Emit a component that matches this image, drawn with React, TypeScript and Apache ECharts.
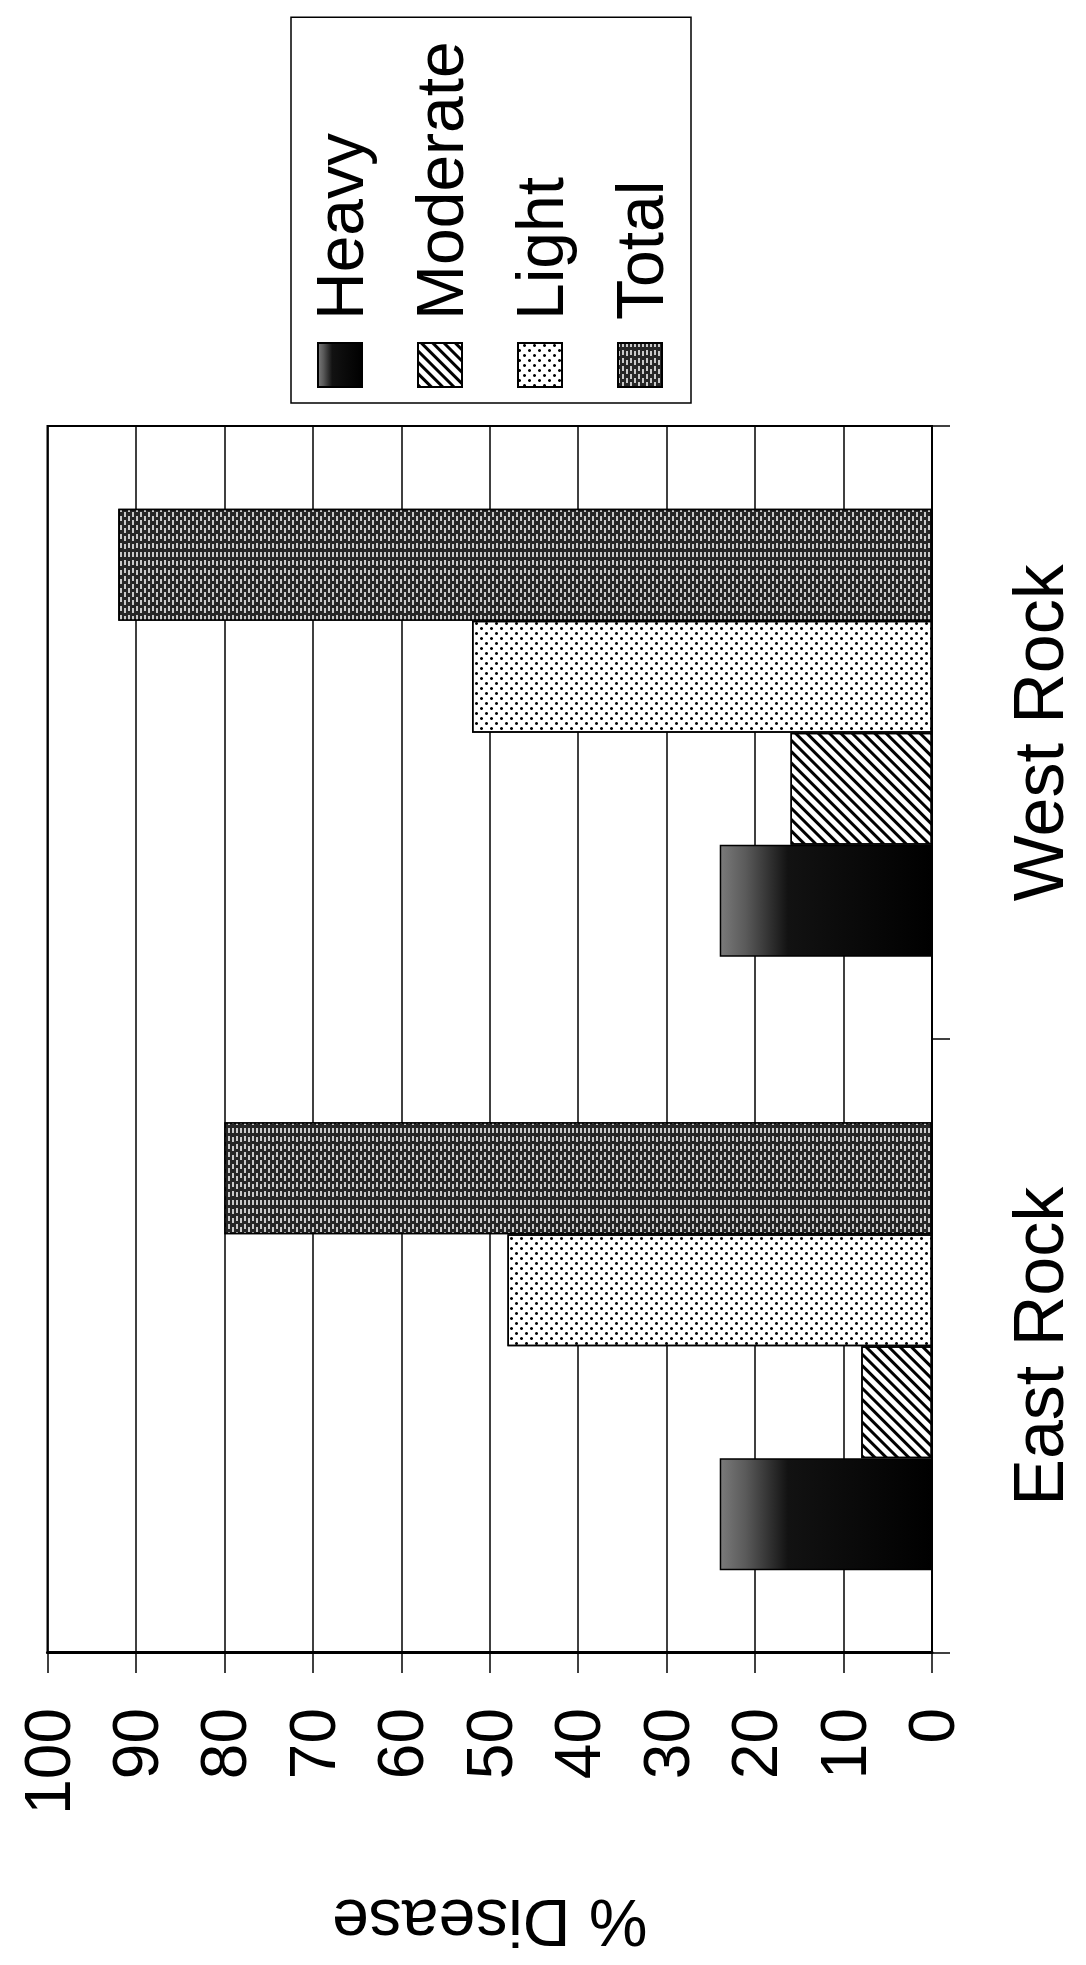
import React, { useEffect, useRef } from "react";
import * as echarts from "echarts";

// ---- data ----
const categories = ["East Rock", "West Rock"];
const seriesNames = ["Heavy", "Moderate", "Light", "Total"];
const heavy = [24, 24];
const moderate = [8, 16];
const light = [48, 52];
const total = [80, 92];
const valueMin = 0;
const valueMax = 100;
const valueStep = 10;
const axisName = "% Disease";

// chart is drawn upright, then the whole box is turned a quarter turn counter-clockwise
const W = 1965;
const H = 1086;
const FONT = "'Liberation Sans', Arial, Helvetica, sans-serif";

export default function App() {
  const ref = useRef<HTMLDivElement>(null);

  useEffect(() => {
    document.body.style.margin = "0";
    document.body.style.overflow = "hidden";
    const chart = echarts.init(ref.current as HTMLDivElement, null, {
      renderer: "svg",
      width: W,
      height: H,
    });

    const border = { borderColor: "#000", borderWidth: 1.5 };

    const heavyFill = new echarts.graphic.LinearGradient(0, 0, 0, 1, [
      { offset: 0, color: "#7a7a7a" },
      { offset: 0.12, color: "#5a5a5a" },
      { offset: 0.32, color: "#121212" },
      { offset: 1, color: "#000000" },
    ]);

    const option = {
      animation: false,
      backgroundColor: "#ffffff",
      textStyle: { fontFamily: FONT, color: "#000" },
      grid: {
        left: 312,
        right: 426,
        top: 47.5,
        bottom: 154,
        show: true,
        borderColor: "#000",
        borderWidth: 2,
        backgroundColor: "transparent",
      },
      legend: {
        orient: "vertical",
        left: 1562,
        top: 291,
        data: seriesNames,
        icon: "rect",
        itemWidth: 44,
        itemHeight: 44,
        itemGap: 34,
        padding: [16, 24, 18, 15],
        borderColor: "#000",
        borderWidth: 1.5,
        backgroundColor: "#fff",
        textStyle: {
          fontFamily: FONT,
          fontSize: 66,
          color: "#000",
          padding: [0, 0, 0, 18],
        },
      },
      xAxis: {
        type: "category",
        data: categories,
        axisLine: { show: true, lineStyle: { color: "#000", width: 2 } },
        axisTick: { show: true, length: 18, lineStyle: { color: "#000", width: 1.5 } },
        axisLabel: { fontFamily: FONT, fontSize: 70, color: "#000", margin: 72 },
        splitLine: { show: false },
      },
      yAxis: {
        type: "value",
        min: valueMin,
        max: valueMax,
        interval: valueStep,
        name: axisName,
        nameLocation: "middle",
        nameRotate: 90,
        nameGap: 237,
        nameTextStyle: { fontFamily: FONT, fontSize: 66, color: "#000" },
        axisLine: { show: true, lineStyle: { color: "#000", width: 3 } },
        axisTick: { show: true, length: 20, lineStyle: { color: "#000", width: 1.5 } },
        axisLabel: { fontFamily: FONT, fontSize: 64, color: "#000", margin: 55 },
        splitLine: { show: true, lineStyle: { color: "#000", width: 1.5 } },
      },
      series: [
        {
          name: "Heavy",
          type: "bar",
          data: heavy,
          barGap: "0%",
          barCategoryGap: "27%",
          itemStyle: { color: heavyFill, ...border },
        },
        {
          name: "Moderate",
          type: "bar",
          data: moderate,
          barGap: "0%",
          barCategoryGap: "27%",
          itemStyle: {
            color: "#ffffff",
            ...border,
            decal: {
              symbol: "rect",
              symbolSize: 1,
              color: "#000",
              dashArrayX: [1, 0],
              dashArrayY: [3, 5],
              rotation: -Math.PI / 4,
            },
          },
        },
        {
          name: "Light",
          type: "bar",
          data: light,
          barGap: "0%",
          barCategoryGap: "27%",
          itemStyle: {
            color: "#ffffff",
            ...border,
            decal: {
              symbol: "circle",
              symbolSize: 1,
              color: "#000",
              dashArrayX: [
                [2.6, 6.4],
                [0, 4.5, 2.6, 1.9],
              ],
              dashArrayY: [2.6, 1.9],
            },
          },
        },
        {
          name: "Total",
          type: "bar",
          data: total,
          barGap: "0%",
          barCategoryGap: "27%",
          itemStyle: {
            color: "#262626",
            ...border,
            decal: {
              symbol: "rect",
              symbolSize: 1,
              color: "rgba(255,255,255,0.75)",
              dashArrayX: [
                [5, 3],
                [0, 4, 5, 0],
              ],
              dashArrayY: [1.3, 1.7],
            },
          },
        },
      ],
    };

    chart.setOption(option as any);
    return () => chart.dispose();
  }, []);

  return (
    <div
      style={{
        position: "absolute",
        left: 0,
        top: 0,
        width: 1086,
        height: 1965,
        overflow: "hidden",
        background: "#fff",
      }}
    >
      <div
        ref={ref}
        style={{
          position: "absolute",
          left: 0,
          top: 0,
          width: W,
          height: H,
          transformOrigin: "0 0",
          transform: `translateY(${W}px) rotate(-90deg)`,
        }}
      />
    </div>
  );
}
